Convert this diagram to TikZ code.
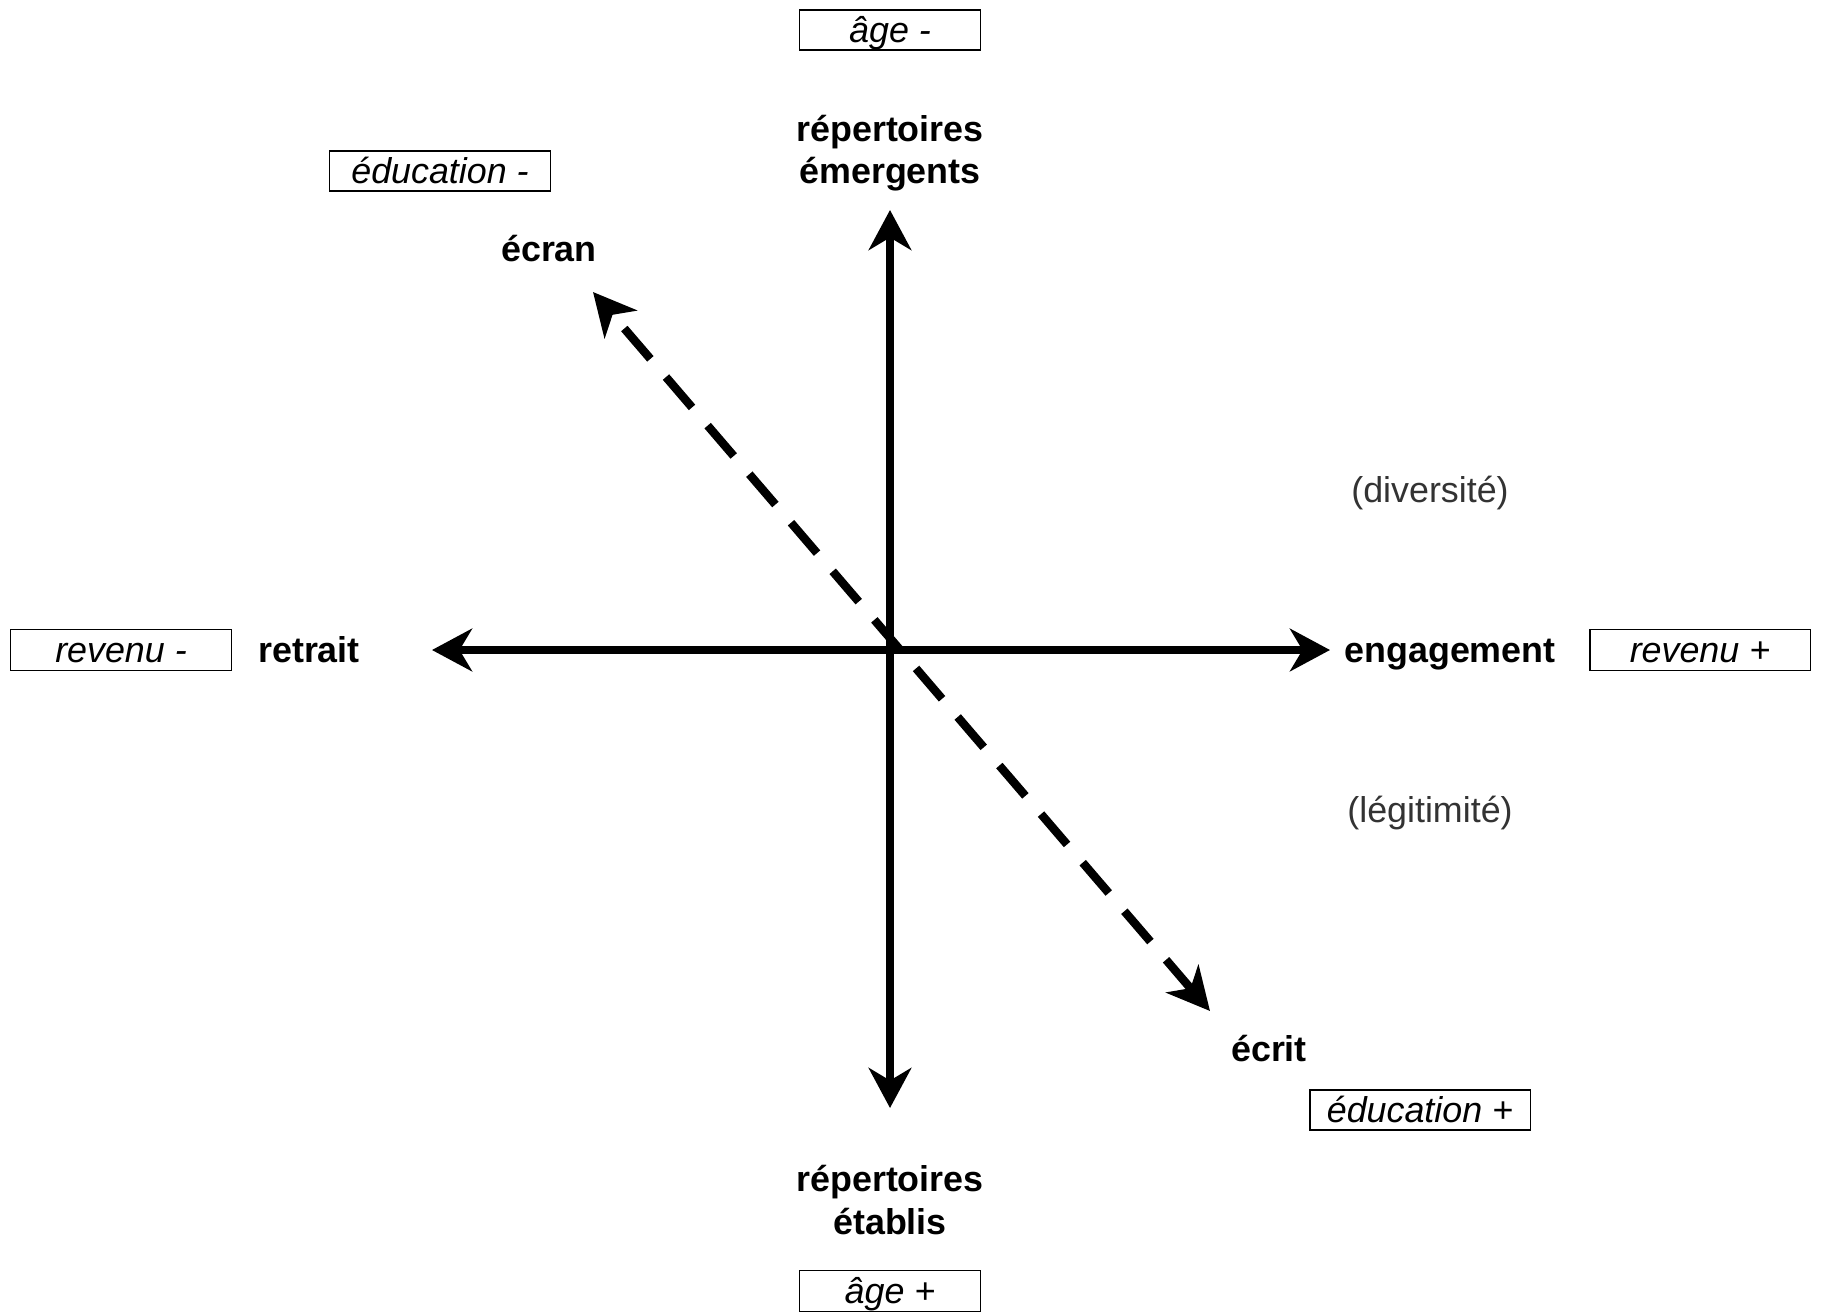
\documentclass[tikz,border=0pt]{standalone}
\usepackage{fontspec}
\setmainfont{Liberation Sans}
\usetikzlibrary{arrows.meta}
\begin{document}
\begin{tikzpicture}[x=0.02cm, y=-0.02cm,
  every node/.style={font=\fontsize{20.4}{24}\selectfont},
  pole/.style={font=\fontsize{20.4}{24}\selectfont\bfseries, align=center, inner sep=0pt},
  single/.style={text height=18.8pt, text depth=4.1pt},
  hint/.style={text=black!80, inner sep=0pt, single},
  tagbox/.style={draw, line width=1.1pt, font=\fontsize{20.4}{24}\selectfont\itshape,
    minimum width=4.42cm, minimum height=0.8cm, inner sep=0pt, single},
  axis/.style={line width=5pt, {Stealth[length=0.8cm, width=0.85cm, inset=0.25cm]}-{Stealth[length=0.8cm, width=0.85cm, inset=0.25cm]}},
  trend/.style={line width=4.8pt, dash pattern=on 0.8cm off 0.48cm,
    {Stealth[length=0.85cm, width=0.85cm, inset=0.25cm]}-{Stealth[length=0.85cm, width=0.85cm, inset=0.25cm]}}]
\useasboundingbox (0,0) rectangle (1829,1312);

% axes
\coordinate (x left) at (432,650);
\coordinate (x right) at (1330,650);
\coordinate (y top) at (890,210);
\coordinate (y bottom) at (890,1108);
\draw[axis] (x left) -- (x right);
\draw[axis] (y bottom) -- (y top);

% diagonal
\coordinate (ecran tip) at (593,292);
\coordinate (ecrit tip) at (1210,1011);
\draw[trend] (ecrit tip) -- (ecran tip);

% pole labels
\node[pole] (emergents) at (890,153) {répertoires\\émergents};
\node[pole] (etablis) at (890,1200) {répertoires\\établis};
\node[pole, single] (retrait) at (309,650) {retrait};
\node[pole, single] (engagement) at (1450,650) {engagement};
\node[pole, single] (ecran) at (549,249) {écran};
\node[pole, single] (ecrit) at (1269,1049) {écrit};

\node[hint] (diversite) at (1430,490) {(diversité)};
\node[hint] (legitimite) at (1430,810) {(légitimité)};

% boxes
\node[tagbox, minimum width=3.62cm] (age minus) at (890,30) {âge -};
\node[tagbox, minimum width=3.62cm, minimum height=0.82cm] (age plus) at (890,1291) {âge +};
\node[tagbox] (edu minus) at (440,171) {éducation -};
\node[tagbox] (edu plus) at (1420,1110) {éducation +};
\node[tagbox, minimum height=0.82cm] (rev minus) at (121,650) {revenu -};
\node[tagbox, minimum height=0.82cm] (rev plus) at (1700,650) {revenu +};
\end{tikzpicture}
\end{document}
